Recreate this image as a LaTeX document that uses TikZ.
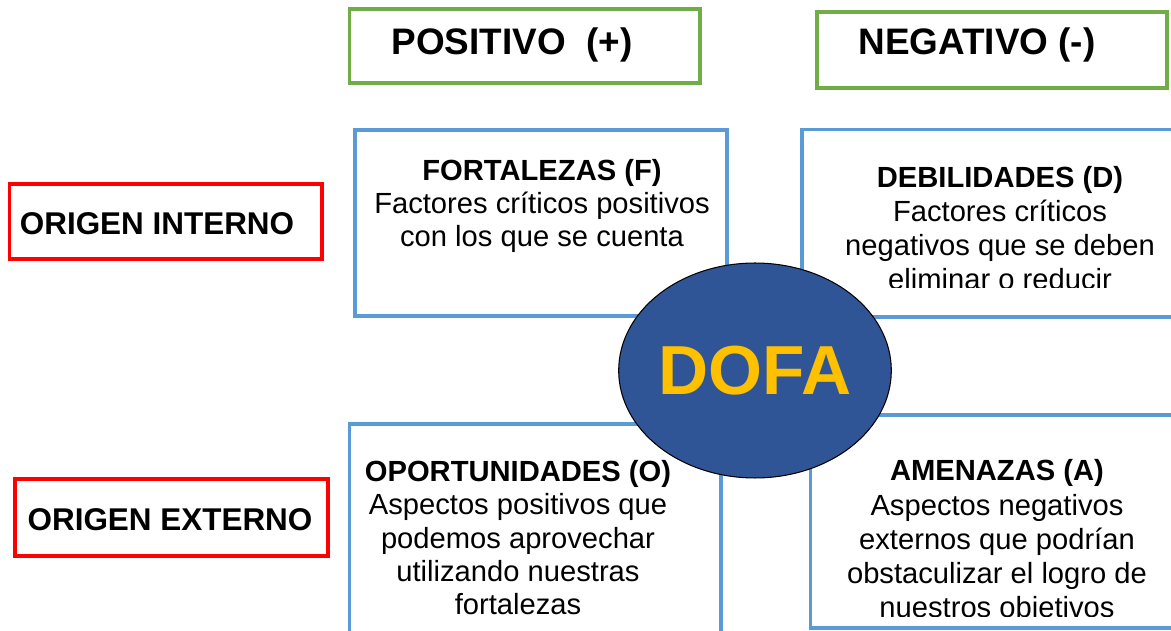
\documentclass[tikz,border=0pt]{standalone}
\usepackage{fontspec}
\setmainfont{Liberation Sans}
\usetikzlibrary{shapes.geometric}
\definecolor{boxgreen}{HTML}{70AD47}
\definecolor{boxblue}{HTML}{5B9BD5}
\definecolor{boxred}{HTML}{FF0000}
\definecolor{dofablue}{HTML}{2F5597}
\definecolor{dofagold}{HTML}{FFC000}

\begin{document}
\begin{tikzpicture}[x=0.02cm,y=-0.02cm,
  greenbox/.style={draw=boxgreen, line width=2.1pt},
  bluebox/.style={draw=boxblue, line width=2.1pt},
  redbox/.style={draw=boxred, line width=2.1pt},
  headtext/.style={anchor=base, font=\fontsize{21}{25}\selectfont\bfseries},
  origtext/.style={anchor=base, font=\fontsize{17.9}{21}\selectfont\bfseries},
  celltext/.style={anchor=base, align=center, inner sep=0pt, font=\fontsize{16.6}{19}\selectfont},
  widecell/.style={celltext, font=\fontsize{16.6}{19.5}\selectfont}]
\useasboundingbox (0,0) rectangle (1171,631);
% draws header boxes
\draw[greenbox] (349.5,9) rectangle (700,83);
\draw[greenbox] (817,12) rectangle (1167,88);
\draw[redbox] (9.5,184) rectangle (322,259);
\draw[redbox] (14.7,479) rectangle (328,556);
% labels header boxes
\node[headtext] (positivo) at (512,55) {POSITIVO~~(+)};
\node[headtext] (negativo) at (977,55) {NEGATIVO (-)};
\node[origtext] (interno) at (157,235) {ORIGEN INTERNO};
\node[origtext] (externo) at (170,531) {ORIGEN EXTERNO};
% draws quadrant boxes
\draw[bluebox] (355,130) rectangle (727,316);
\draw[bluebox] (802,129.5) rectangle (1185,317);
\draw[bluebox] (349.5,424) rectangle (721,645);
\draw[bluebox] (810.5,414.7) rectangle (1185,628);
% labels quadrant boxes (anchored at the last line)
\node[celltext] (fortalezas) at (542,247) {\textbf{FORTALEZAS (F)}\\Factores críticos positivos\\con los que se cuenta};
\begin{scope}
\clip (802,129.5) rectangle (1171,288);
\node[widecell] (debilidades) at (1000,290) {\textbf{DEBILIDADES (D)}\\Factores críticos\\negativos que se deben\\eliminar o reducir};
\end{scope}
\node[celltext] (oportunidades) at (518,615) {\textbf{OPORTUNIDADES (O)}\\Aspectos positivos que\\podemos aprovechar\\utilizando nuestras\\fortalezas};
\begin{scope}
\clip (810.5,414.7) rectangle (1171,617);
\node[widecell] (amenazas) at (997,618) {\textbf{AMENAZAS (A)}\\Aspectos negativos\\externos que podrían\\obstaculizar el logro de\\nuestros objetivos};
\end{scope}
% draws centre
\node[ellipse, draw=black, line width=0.6pt, fill=dofablue, inner sep=0pt, minimum width=5.44cm, minimum height=4.3cm,
  text=dofagold, font=\fontsize{39.5}{41}\selectfont\bfseries] (dofa) at (755,370.5) {DOFA};
\end{tikzpicture}
\end{document}
